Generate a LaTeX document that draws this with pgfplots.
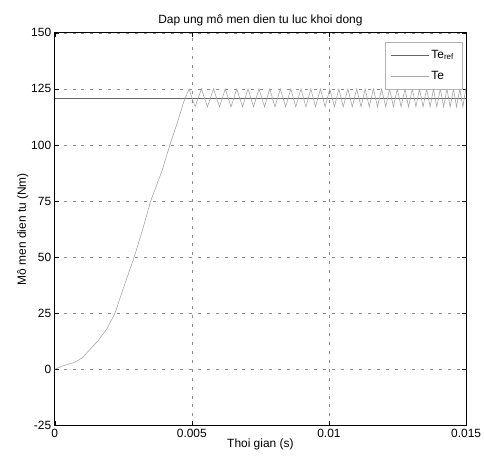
\documentclass[border=0pt]{standalone}
\usepackage{fontspec}
\setmainfont{Liberation Sans}
\usepackage{pgfplots}
\pgfplotsset{compat=1.18}

% Te: dap ung mo men (doc tu hinh)
\begin{document}
\begin{tikzpicture}
\useasboundingbox (-55pt,-33pt) rectangle (432pt,428pt);
\begin{axis}[
  at={(0,0)}, anchor=south west,
  width=414pt, height=395pt, scale only axis,
  xmin=0, xmax=0.015, ymin=-25, ymax=150,
  xtick={0,0.005,0.01,0.015}, xticklabels={0,0.005,0.01,0.015},
  ytick={-25,0,25,50,75,100,125,150},
  scaled x ticks=false,
  /pgf/number format/assume math mode=true,
  tick label style={font=\fontsize{12}{13}\selectfont},
  label style={font=\fontsize{12}{13}\selectfont},
  title style={font=\fontsize{12}{13}\selectfont, yshift=-3pt},
  title={Dap ung mô men dien tu luc khoi dong},
  xlabel={Thoi gian (s)}, ylabel={Mô men dien tu (Nm)},
  xlabel style={yshift=5pt}, ylabel style={yshift=-4pt},
  grid=major, major grid style={black!45, dash pattern=on 3pt off 6pt},
  tick align=inside, tick style={black}, major tick length=4pt,
  axis line style={black, line width=0.6pt},
  legend style={at={(0.99,0.977)}, anchor=north east, draw=black!30,
    font=\fontsize{12}{13}\selectfont, row sep=8pt, inner sep=6pt},
  legend image code/.code={\draw[#1] (0pt,0pt) -- (38pt,0pt);},
  legend cell align=left,
]
\addplot[black!60, line width=0.6pt] coordinates {(0,121) (0.015,121)};
\addlegendentry{Te$_{\mathrm{ref}}$}
\addplot[black!35, line width=0.6pt] coordinates {
  (0,0) (0.0003,1.5) (0.0007,3) (0.001,5) (0.0013,9) (0.0016,13) (0.0019,18)
  (0.0022,25) (0.0025,36) (0.0029,50) (0.0032,62) (0.0035,75) (0.0039,88)
  (0.0042,100) (0.0045,111) (0.0047,119) (0.0049,125)
  (0.00512,117) (0.00535,125) (0.00557,117) (0.00579,125)
  (0.00601,117) (0.00622,125) (0.00643,117) (0.00664,125)
  (0.00685,117) (0.00705,125) (0.00725,117) (0.00745,125)
  (0.00765,117) (0.00784,125) (0.00803,117) (0.00823,125)
  (0.00842,117) (0.00861,125) (0.00879,117) (0.00898,125)
  (0.00916,117) (0.00934,125) (0.00951,117) (0.00969,125)
  (0.00986,117) (0.01003,125) (0.0102,117) (0.01036,125)
  (0.01052,117) (0.01069,125) (0.01085,117) (0.01101,125)
  (0.01117,117) (0.01132,125) (0.01147,117) (0.01162,125)
  (0.01177,117) (0.01192,125) (0.01207,117) (0.01221,125)
  (0.01235,117) (0.01249,125) (0.01263,117) (0.01277,125)
  (0.0129,117) (0.01304,125) (0.01317,117) (0.0133,125)
  (0.01343,117) (0.01356,125) (0.01369,117) (0.01381,125)
  (0.01393,117) (0.01406,125) (0.01418,117) (0.0143,125)
  (0.01442,117) (0.01454,125) (0.01465,117) (0.01477,125)
  (0.01488,117) (0.01499,125)};
\addlegendentry{Te}
\end{axis}
\end{tikzpicture}
\end{document}
